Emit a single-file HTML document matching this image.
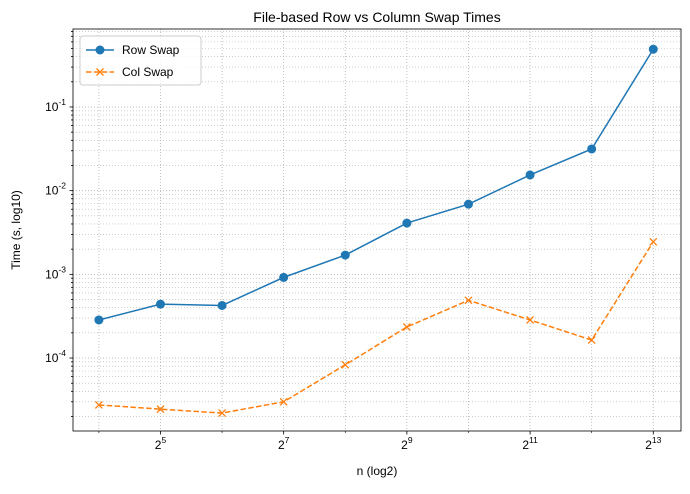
<!DOCTYPE html>
<html><head><meta charset="utf-8"><style>
body{margin:0;background:#fff;font-family:"Liberation Sans","DejaVu Sans",sans-serif}
</style></head><body>
<svg id="chart" width="690" height="489" xmlns="http://www.w3.org/2000/svg"></svg>
<script>
const nExp=[4,5,6,7,8,9,10,11,12,13];
const rowSwap=[2.85e-4,4.4e-4,4.25e-4,9.2e-4,1.7e-3,4.1e-3,6.9e-3,0.0154,0.0315,0.49];
const colSwap=[2.75e-5,2.45e-5,2.2e-5,3.0e-5,8.3e-5,2.35e-4,4.9e-4,2.85e-4,1.64e-4,2.45e-3];
const xTickExp=[5,7,9,11,13];
const yTickExp=[-4,-3,-2,-1];
const L=73,R=681,T=29,B=431;
const xmin=3.58,xmax=13.45,ymin=-4.872,ymax=-0.068;
const sx=e=>L+(e-xmin)/(xmax-xmin)*(R-L);
const sy=v=>B-(Math.log10(v)-ymin)/(ymax-ymin)*(B-T);
const svg=document.getElementById('chart');
const NS='http://www.w3.org/2000/svg';
function mk(tag,attrs,parent){const e=document.createElementNS(NS,tag);for(const k in attrs)e.setAttribute(k,attrs[k]);(parent||svg).appendChild(e);return e;}
const grid=mk('g',{});


for(let e=4;e<=13;e++){mk('line',{x1:sx(e),x2:sx(e),y1:T,y2:B,stroke:'#b0b0b0','stroke-width':0.8,'stroke-dasharray':'1,2'},grid);}
for(let k=-5;k<=0;k++)for(let m=1;m<=9;m++){const v=m*Math.pow(10,k);const y=sy(v);if(y<T||y>B)continue;
mk('line',{x1:L,x2:R,y1:y,y2:y,stroke:'#b0b0b0','stroke-width':m==1?0.8:0.6,'stroke-dasharray':'1,2'},grid);
mk('line',{x1:L,x2:L-(m==1?3.5:2),y1:y,y2:y,stroke:'#000','stroke-width':0.8});}
const frame=mk('rect',{x:L,y:T,width:R-L,height:B-T,fill:'none',stroke:'#000','stroke-width':0.8});


xTickExp.forEach(e=>{const x=sx(e);mk('line',{x1:x,x2:x,y1:B,y2:B+3.5,stroke:'#000','stroke-width':0.8});
const t=mk('text',{x:x,y:B+18,'text-anchor':'middle','font-size':12});


t.innerHTML='2<tspan dy="-6" font-size="8.5">'+e+'</tspan>';});
for(let e=4;e<=13;e++){if(!xTickExp.includes(e))mk('line',{x1:sx(e),x2:sx(e),y1:B,y2:B+2,stroke:'#000','stroke-width':0.6});}
yTickExp.forEach(k=>{const y=sy(Math.pow(10,k));
const t=mk('text',{x:L-7,y:y+4,'text-anchor':'end','font-size':12});


t.innerHTML='10<tspan dy="-6" font-size="8.5">'+k+'</tspan>';});
const rowPts=nExp.map((e,i)=>sx(e)+','+sy(rowSwap[i])).join(' ');
const rl=mk('polyline',{points:rowPts,fill:'none',stroke:'#1f77b4','stroke-width':1.5});


nExp.forEach((e,i)=>{const c=mk('circle',{cx:sx(e),cy:sy(rowSwap[i]),r:4.5,fill:'#1f77b4'});

});
const colPts=nExp.map((e,i)=>sx(e)+','+sy(colSwap[i])).join(' ');
const cl=mk('polyline',{points:colPts,fill:'none',stroke:'#ff7f0e','stroke-width':1.5,'stroke-dasharray':'5.5,2.4'});


function cross(x,y,g){mk('path',{d:`M${x-3.5},${y-3.5}L${x+3.5},${y+3.5}M${x-3.5},${y+3.5}L${x+3.5},${y-3.5}`,stroke:'#ff7f0e','stroke-width':1.3},g);}
nExp.forEach((e,i)=>{const g=mk('g',{});


cross(sx(e),sy(colSwap[i]),g);});
const title=mk('text',{x:(L+R)/2,y:22,'text-anchor':'middle','font-size':14});title.textContent='File-based Row vs Column Swap Times';


const xl=mk('text',{x:(L+R)/2,y:475,'text-anchor':'middle','font-size':12});xl.textContent='n (log2)';


const yl=mk('text',{x:20,y:(T+B)/2,'text-anchor':'middle','font-size':12,transform:`rotate(-90 20 ${(T+B)/2})`});yl.textContent='Time (s, log10)';


const lg=mk('g',{});


mk('rect',{x:80,y:36,width:121,height:49,rx:3,fill:'#fff','fill-opacity':0.8,stroke:'#ccc'},lg);
mk('line',{x1:86,x2:114,y1:50,y2:50,stroke:'#1f77b4','stroke-width':1.5},lg);
mk('circle',{cx:100,cy:50,r:4.5,fill:'#1f77b4'},lg);
const t1=mk('text',{x:122,y:54,'font-size':12},lg);t1.textContent='Row Swap';


mk('line',{x1:86,x2:114,y1:72,y2:72,stroke:'#ff7f0e','stroke-width':1.5,'stroke-dasharray':'5.5,2.4'},lg);
cross(100,72,lg);
const t2=mk('text',{x:122,y:76,'font-size':12},lg);t2.textContent='Col Swap';


</script>
</body></html>
